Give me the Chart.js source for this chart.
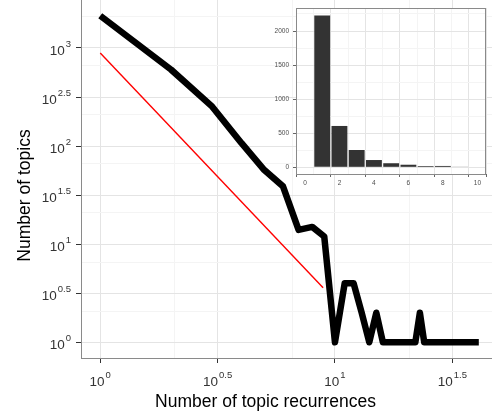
<!DOCTYPE html>
<html>
<head>
<meta charset="utf-8">
<script src="https://cdn.jsdelivr.net/npm/chart.js@4.4.1/dist/chart.umd.min.js"></script>
<style>
  html, body { margin: 0; padding: 0; background: #fff; }
  #wrap { position: relative; width: 492px; height: 418px; overflow: hidden; }
  #cvMain { position: absolute; left: 0; top: 0; }
  #cvInset { position: absolute; left: 260px; top: 0; }
</style>
</head>
<body>
<div id="wrap">
  <canvas id="cvMain" width="492" height="418"></canvas>
  <canvas id="cvInset" width="232" height="200"></canvas>
</div>
<script>
// ---- data ----
const recurrences = [1, 2, 3, 4, 5, 6, 7, 8, 9, 10, 11, 12, 13, 14, 15, 16, 17, 18, 19, 20,
                     21, 22, 23, 24, 25, 26, 27, 28, 29, 30, 31, 32, 33, 34, 35, 36, 37, 38, 39, 40, 41];
const topicCounts = [2130, 603, 252, 107, 57, 39, 14, 15, 12, 1, 4, 4, 2, 1, 2, 1, 1, 1, 1, 1,
                     1, 1, 2, 1, 1, 1, 1, 1, 1, 1, 1, 1, 1, 1, 1, 1, 1, 1, 1, 1, 1];
const fitX = [1, 8.9];
const fitY = [890, 3.6];

const xTickExp = [0, 0.5, 1, 1.5];
const yTickExp = [0, 0.5, 1, 1.5, 2, 2.5, 3];

const insetX      = [1, 2, 3, 4, 5, 6, 7, 8, 9];
const insetCounts = [2229, 607, 254, 107, 60, 38, 18, 20, 9];
const insetXTicks = [0, 2, 4, 6, 8, 10];
const insetYTicks = [0, 500, 1000, 1500, 2000];

// ---- helpers ----
const FONT = '"Liberation Sans", Arial, sans-serif';
const GRID_MAJ = "#e4e4e4", GRID_MIN = "#f4f4f4";
const pow10 = (e) => Math.pow(10, e);

// major ticks at 10^k/2, minor ticks at the arithmetic midpoints (like ggplot)
function logTicks(exps, lo, hi) {
  const ext = [exps[0] - 0.5, ...exps, exps[exps.length - 1] + 0.5];
  const out = exps.map((e) => ({ value: pow10(e), exp: e, minor: false }));
  for (let i = 0; i < ext.length - 1; i++) {
    const v = (pow10(ext[i]) + pow10(ext[i + 1])) / 2;
    if (v > pow10(lo) && v < pow10(hi)) out.push({ value: v, minor: true });
  }
  return out.sort((a, b) => a.value - b.value);
}
function linTicks(majors, step, lo, hi) {
  const out = majors.map((v) => ({ value: v, minor: false }));
  majors.forEach((v) => {
    const m = v + step / 2;
    if (m > lo && m < hi) out.push({ value: m, minor: true });
  });
  return out.sort((a, b) => a.value - b.value);
}

const X_LO = -0.082, X_HI = 1.669;
const Y_LO = -0.160, Y_HI = 3.489;

// "10" with a superscript exponent
function drawPow(ctx, exp, x, y, align) {
  ctx.font = `13.5px ${FONT}`;
  const wb = ctx.measureText("10").width;
  ctx.font = `9.5px ${FONT}`;
  const ws = ctx.measureText(String(exp)).width;
  const left = align === "center" ? x - (wb + ws + 1) / 2 : x - (wb + ws + 1);
  ctx.textAlign = "left";
  ctx.textBaseline = "alphabetic";
  ctx.font = `13.5px ${FONT}`;
  ctx.fillText("10", left, y);
  ctx.font = `9.5px ${FONT}`;
  ctx.fillText(String(exp), left + wb + 1, y - 8);
}

const mainLabels = {
  id: "mainLabels",
  afterDraw(chart) {
    const { ctx, scales: { x, y } } = chart;
    ctx.save();
    ctx.fillStyle = "#333";
    xTickExp.forEach((e) => drawPow(ctx, e, x.getPixelForValue(pow10(e)), 386, "center"));
    yTickExp.forEach((e) => drawPow(ctx, e, 71, y.getPixelForValue(pow10(e)) + 7, "right"));
    ctx.fillStyle = "#000";
    ctx.font = `17.5px ${FONT}`;
    ctx.textAlign = "center";
    ctx.textBaseline = "alphabetic";
    ctx.fillText("Number of topic recurrences", 265.5, 406.5);
    ctx.translate(29.5, 195.5);
    ctx.rotate(-Math.PI / 2);
    ctx.fillText("Number of topics", 0, 0);
    ctx.restore();
  },
};

const gridColor = (c) => (c.tick && c.tick.minor ? GRID_MIN : GRID_MAJ);
const tickColor = (c) => (c.tick && c.tick.minor ? "rgba(0,0,0,0)" : "#333");

new Chart(document.getElementById("cvMain"), {
  type: "line",
  plugins: [mainLabels],
  data: {
    datasets: [
      { data: fitX.map((v, i) => ({ x: v, y: fitY[i] })), borderColor: "#ff0000", borderWidth: 1.4, pointRadius: 0, tension: 0 },
      { data: recurrences.map((v, i) => ({ x: v, y: topicCounts[i] })), borderColor: "#000", borderWidth: 6.5,
        borderJoinStyle: "round", borderCapStyle: "butt", pointRadius: 0, tension: 0 },
    ],
  },
  options: {
    responsive: false, animation: false,
    layout: { padding: 0 },
    plugins: { legend: { display: false }, tooltip: { enabled: false } },
    scales: {
      x: {
        type: "logarithmic", min: pow10(X_LO), max: pow10(X_HI),
        afterBuildTicks: (s) => { s.ticks = logTicks(xTickExp, X_LO, X_HI); },
        afterFit: (s) => { s.height = 60; },
        ticks: { display: false },
        grid: { color: gridColor, tickColor: tickColor, tickLength: 5, lineWidth: 1 },
        border: { color: "#8a8a8a", width: 1 },
      },
      y: {
        type: "logarithmic", min: pow10(Y_LO), max: pow10(Y_HI),
        afterBuildTicks: (s) => { s.ticks = logTicks(yTickExp.concat([3.5]), Y_LO, Y_HI).filter((t) => t.value < pow10(Y_HI)); },
        afterFit: (s) => { s.width = 81; },
        ticks: { display: false },
        grid: { color: gridColor, tickColor: tickColor, tickLength: 5, lineWidth: 1 },
        border: { color: "#8a8a8a", width: 1 },
      },
    },
  },
});

// ---- inset bar chart ----
const insetPanel = {
  id: "insetPanel",
  beforeDraw(chart) {
    const { ctx, chartArea: a } = chart;
    ctx.save();
    ctx.fillStyle = "#fff";
    ctx.fillRect(a.left, a.top, a.right - a.left, a.bottom - a.top);
    ctx.restore();
  },
  afterDraw(chart) {
    const { ctx, chartArea: a } = chart;
    ctx.save();
    ctx.strokeStyle = "#8a8a8a";
    ctx.lineWidth = 1;
    ctx.strokeRect(Math.round(a.left) + 0.5, Math.round(a.top) + 0.5, Math.round(a.right - a.left) - 1, Math.round(a.bottom - a.top));
    ctx.restore();
  },
};

const IX_LO = -0.52, IX_HI = 10.5, IY_LO = -98, IY_HI = 2338;
const insetTickFont = { size: 6.5, family: FONT };

new Chart(document.getElementById("cvInset"), {
  type: "bar",
  plugins: [insetPanel],
  data: {
    datasets: [{
      data: insetX.map((v, i) => ({ x: v, y: insetCounts[i] })),
      backgroundColor: "#333333", borderWidth: 0, barPercentage: 0.92, categoryPercentage: 1,
    }],
  },
  options: {
    responsive: false, animation: false,
    layout: { padding: { top: 8, right: 6, left: 0, bottom: 0 } },
    plugins: { legend: { display: false }, tooltip: { enabled: false } },
    scales: {
      x: {
        type: "linear", min: IX_LO, max: IX_HI, offset: false,
        afterBuildTicks: (s) => { s.ticks = linTicks(insetXTicks, 2, IX_LO, IX_HI); },
        afterFit: (s) => { s.height = 26; },
        ticks: { color: "#4d4d4d", font: insetTickFont, padding: 2, maxRotation: 0, autoSkip: false,
                 callback: (v, i, t) => (t[i].minor ? "" : String(v)) },
        grid: { color: gridColor, tickColor: (c) => (c.tick && c.tick.minor ? "rgba(0,0,0,0)" : "#666"), tickLength: 3 },
        border: { display: false },
      },
      y: {
        type: "linear", min: IY_LO, max: IY_HI,
        afterBuildTicks: (s) => { s.ticks = linTicks(insetYTicks, 500, IY_LO, IY_HI); },
        afterFit: (s) => { s.width = 36; },
        ticks: { color: "#4d4d4d", font: insetTickFont, padding: 4, autoSkip: false,
                 callback: (v, i, t) => (t[i].minor ? "" : String(v)) },
        grid: { color: gridColor, tickColor: (c) => (c.tick && c.tick.minor ? "rgba(0,0,0,0)" : "#666"), tickLength: 3 },
        border: { display: false },
      },
    },
  },
});
</script>
</body>
</html>
